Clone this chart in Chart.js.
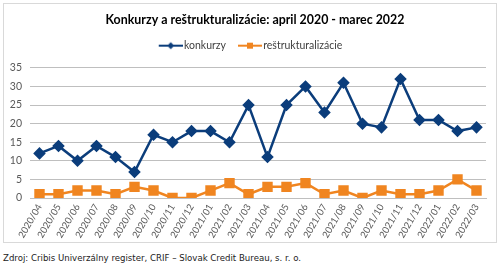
<!DOCTYPE html>
<html>
<head>
<meta charset="utf-8">
<script src="https://cdn.jsdelivr.net/npm/chart.js@4/dist/chart.umd.min.js"></script>
<style>
  body { margin: 0; background: #fff; width: 500px; height: 264px; overflow: hidden; position: relative; }
  #box { position: absolute; left: 3px; top: 3px; width: 492px; height: 238px; border: 1px solid #d9d9d9; }
  #box canvas { display: block; }
  #src { position: absolute; left: 3px; top: 254px; font: 8.6px "DejaVu Sans", Verdana, sans-serif; line-height: 1; color: #222; white-space: nowrap; }
</style>
</head>
<body>
<div id="box"><canvas id="chart" width="492" height="238"></canvas></div>
<div id="src">Zdroj: Cribis Univerzálny register, CRIF – Slovak Credit Bureau, s. r. o.</div>
<script>
const months = ['2020/04', '2020/05', '2020/06', '2020/07', '2020/08', '2020/09', '2020/10', '2020/11',
  '2020/12', '2021/01', '2021/02', '2021/03', '2021/04', '2021/05', '2021/06', '2021/07', '2021/08',
  '2021/09', '2021/10', '2021/11', '2021/12', '2022/01', '2022/02', '2022/03'];
const konkurzy = [12, 14, 10, 14, 11, 7, 17, 15, 18, 18, 15, 25, 11, 25, 30, 23, 31, 20, 19, 32, 21, 21, 18, 19];
const restrukturalizacie = [1, 1, 2, 2, 1, 3, 2, 0, 0, 2, 4, 1, 3, 3, 4, 1, 2, 0, 2, 1, 1, 2, 5, 2];

const blue = '#0b3d7b';
const orange = '#f08520';

// legend icon: short line with a small marker, like Excel.
// left 12px are blank so the items get some space between them
function legendIcon(color, shape) {
  const c = document.createElement('canvas');
  c.width = 36; c.height = 10;
  const ctx = c.getContext('2d');
  ctx.strokeStyle = color;
  ctx.lineWidth = 2;
  ctx.beginPath();
  ctx.moveTo(12, 5); ctx.lineTo(36, 5);
  ctx.stroke();
  ctx.fillStyle = color;
  ctx.beginPath();
  if (shape === 'diamond') {
    ctx.moveTo(24, 1.5); ctx.lineTo(27.5, 5); ctx.lineTo(24, 8.5); ctx.lineTo(20.5, 5);
  } else {
    ctx.rect(21, 2, 6, 6);
  }
  ctx.fill();
  return c;
}

// small position tweaks after layout: title a bit right, legend a bit up
const nudge = {
  id: 'nudge',
  afterLayout(chart) {
    chart.titleBlock.left += 20;
    const lg = chart.legend;
    lg.top -= 7;
    lg.bottom -= 7;
    lg.lineWidths = lg.lineWidths.map(w => w - 3);
  },
};

const tickColor = '#595959';
const gridColor = '#bfbfbf';

new Chart(document.getElementById('chart'), {
  type: 'line',
  data: {
    labels: months,
    datasets: [
      {
        label: 'konkurzy',
        data: konkurzy,
        borderColor: blue,
        backgroundColor: blue,
        borderWidth: 2.5,
        pointStyle: 'rectRot',
        pointRadius: 4.5,
        pointHoverRadius: 4.5,
        tension: 0,
      },
      {
        label: 'reštrukturalizácie',
        data: restrukturalizacie,
        borderColor: orange,
        backgroundColor: orange,
        borderWidth: 2.5,
        pointStyle: 'rect',
        pointRadius: 5.6,
        pointHoverRadius: 5.6,
        tension: 0,
      },
    ],
  },
  options: {
    responsive: false,
    animation: false,
    layout: { padding: { left: 0, right: 10, top: 0, bottom: 0 } },
    plugins: {
      title: {
        display: true,
        text: 'Konkurzy a reštrukturalizácie: april 2020 - marec 2022',
        color: '#000',
        font: { family: 'Lato', size: 12.4, weight: 'bold' },
        padding: { top: 8.5, bottom: 16 },
      },
      legend: {
        labels: {
          usePointStyle: true,
          pointStyleWidth: 28,
          color: '#404040',
          font: { family: 'Lato', size: 10.5 },
          padding: 4,
          generateLabels(chart) {
            return chart.data.datasets.map((ds, i) => ({
              text: ds.label,
              pointStyle: legendIcon(ds.borderColor, i === 0 ? 'diamond' : 'square'),
              fillStyle: ds.borderColor,
              strokeStyle: ds.borderColor,
              lineWidth: 0,
              datasetIndex: i,
              fontColor: '#404040',
            }));
          },
        },
      },
      tooltip: { enabled: false },
    },
    scales: {
      x: {
        offset: true,
        grid: { display: false, drawTicks: false },
        border: { color: gridColor },
        ticks: {
          color: tickColor,
          font: { family: 'Lato', size: 9.5 },
          minRotation: 60,
          maxRotation: 60,
          autoSkip: false,
          padding: 4,
        },
        afterFit(axis) { axis.height = 44; },
      },
      y: {
        min: 0,
        max: 35,
        grid: { color: gridColor, drawTicks: false },
        border: { display: false },
        ticks: {
          stepSize: 5,
          color: tickColor,
          font: { family: 'Lato', size: 10.5 },
          padding: 8,
        },
        afterFit(axis) { axis.width = 26; },
      },
    },
  },
  plugins: [nudge],
});
</script>
</body>
</html>
